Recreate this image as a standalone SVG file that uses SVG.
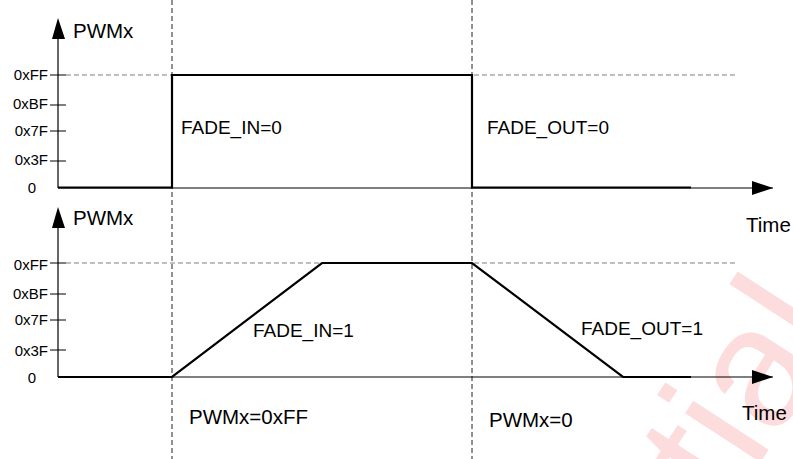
<svg xmlns="http://www.w3.org/2000/svg" width="793" height="459" viewBox="0 0 793 459">
<style>
text{font-family:"Liberation Sans",Arial,sans-serif;fill:#000}
.tick{font-size:15px;text-anchor:end}
.lbl{font-size:19px}
.big{font-size:20.5px}
.axis{stroke:#000;stroke-width:1.2;fill:none}
.sig{stroke:#000;stroke-width:2.2;fill:none;stroke-linejoin:miter}
.vdash{stroke:#222;stroke-width:1;stroke-dasharray:5 3;fill:none}
.hdash{stroke:#808080;stroke-width:1.2;stroke-dasharray:5 3;fill:none}
.tk{stroke:#000;stroke-width:1}
.wm{font-family:"Liberation Sans",Arial,sans-serif;font-size:170px;fill:#fcdcdc}
</style>
<defs>
<marker id="ah" viewBox="0 0 21 14" refX="21" refY="7" markerWidth="21" markerHeight="14" markerUnits="userSpaceOnUse" orient="auto"><path d="M0,0 L21,7 L0,14 Z" fill="#000"/></marker>
</defs>
<g id="watermark"><text class="wm" transform="translate(847,329) rotate(-57)" text-anchor="end">Confidential</text></g>
<g id="guides">
<line class="vdash" x1="172" y1="0" x2="172" y2="459"/>
<line class="vdash" x1="472" y1="0" x2="472" y2="459"/>
<line class="hdash" x1="66" y1="75" x2="736" y2="75"/>
<line class="hdash" x1="66" y1="263" x2="736" y2="263"/>
</g>
<g id="top-chart">
<line class="axis" x1="58" y1="188" x2="58" y2="39"/>
<path d="M58,18 L52,39 L65,39 Z" fill="#000"/>
<line class="axis" x1="58" y1="188" x2="773" y2="188" marker-end="url(#ah)"/>
<line class="tk" x1="50" y1="75" x2="66" y2="75"/>
<line class="tk" x1="50" y1="105" x2="66" y2="105"/>
<line class="tk" x1="50" y1="131" x2="66" y2="131"/>
<line class="tk" x1="50" y1="161" x2="66" y2="161"/>
<text class="big" x="73" y="38">PWMx</text>
<text class="tick" x="48" y="80">0xFF</text>
<text class="tick" x="48" y="109">0xBF</text>
<text class="tick" x="48" y="136">0x7F</text>
<text class="tick" x="48" y="165">0x3F</text>
<text class="tick" x="36" y="193">0</text>
<text class="big" x="746" y="232">Time</text>
</g>
<g id="top-signal">
<polyline class="sig" points="58,187.5 172,187.5 172,75 472,75 472,187.5 691,187.5"/>
<text class="lbl" x="181" y="134">FADE_IN=0</text>
<text class="lbl" x="487" y="134">FADE_OUT=0</text>
</g>
<g id="bottom-chart">
<line class="axis" x1="58" y1="377" x2="58" y2="227"/>
<path d="M58,207 L52,228 L65,228 Z" fill="#000"/>
<line class="axis" x1="58" y1="377" x2="773" y2="377" marker-end="url(#ah)"/>
<line class="tk" x1="50" y1="263" x2="66" y2="263"/>
<line class="tk" x1="50" y1="294" x2="66" y2="294"/>
<line class="tk" x1="50" y1="320" x2="66" y2="320"/>
<line class="tk" x1="50" y1="350" x2="66" y2="350"/>
<text class="big" x="73" y="225">PWMx</text>
<text class="tick" x="48" y="270">0xFF</text>
<text class="tick" x="48" y="299">0xBF</text>
<text class="tick" x="48" y="325">0x7F</text>
<text class="tick" x="48" y="356">0x3F</text>
<text class="tick" x="36" y="383">0</text>
<text class="big" x="742" y="420">Time</text>
</g>
<g id="bottom-signal">
<polyline class="sig" points="58,377 172,377 322,263 472,263 623,377 691,377"/>
<text class="lbl" x="253" y="337">FADE_IN=1</text>
<text class="lbl" x="581" y="335">FADE_OUT=1</text>
<text class="big" x="189" y="424">PWMx=0xFF</text>
<text class="big" x="489" y="427">PWMx=0</text>
</g>
</svg>
